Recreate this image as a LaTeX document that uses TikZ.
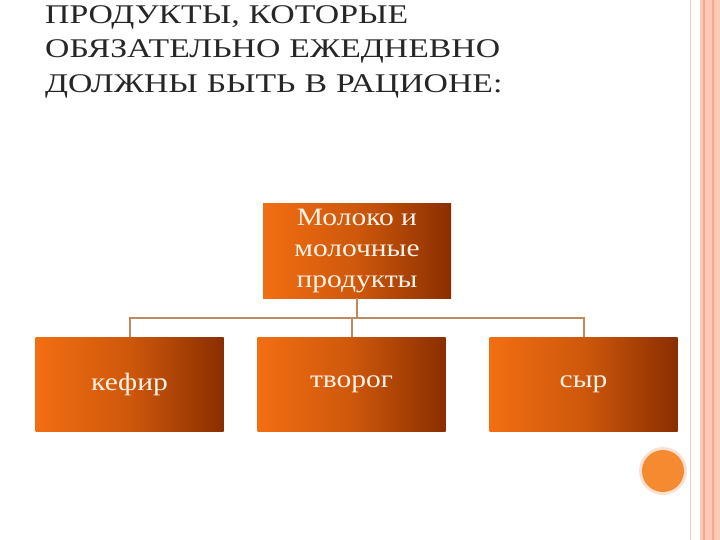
\documentclass[tikz,border=0pt]{standalone}
\usepackage{fontspec}
\setmainfont{Liberation Serif}
\newfontfamily\widefont[FakeStretch=1.25]{Liberation Serif}
\newfontfamily\boxfont[FakeStretch=1.18]{Liberation Serif}
\definecolor{lineC}{HTML}{C08A60}
\definecolor{oA}{HTML}{F26E12}
\definecolor{oB}{HTML}{8A2E00}
\definecolor{txtC}{HTML}{FFF2E6}
\definecolor{stripC}{HTML}{FBCBB8}
\definecolor{stripD}{HTML}{F4A88E}
\definecolor{circC}{HTML}{F58A30}
\tikzset{
 box/.style={draw=none, minimum width=188pt, minimum height=94pt, left color=oA, right color=oB, middle color=oA!65!oB, text=txtC, font=\boxfont\fontsize{25}{31}\selectfont, align=center, inner sep=0pt},
 conn/.style={draw=lineC, line width=2pt}
}
\begin{document}
\begin{tikzpicture}[x=1pt,y=-1pt]
\useasboundingbox (0,0) rectangle (720,540);
\fill[white] (0,0) rectangle (720,540);
% right decoration
\draw[stripD!60, line width=1pt] (690,0) -- (690,540);
\fill[stripC] (700,0) rectangle (720,540);
\draw[stripD, line width=1.5pt] (704,0) -- (704,540);
\draw[stripD, line width=1.5pt] (713,0) -- (713,540);
% circle
\fill[stripC!60] (663,471) circle (24);
\fill[circC] (663,471) circle (21);
% title
\node[anchor=north west, text width=560pt, inner sep=0pt, font=\widefont\fontsize{27}{34.5}\selectfont, text=black!85] (title) at (45,5)
 {ПРОДУКТЫ, КОТОРЫЕ ОБЯЗАТЕЛЬНО ЕЖЕДНЕВНО ДОЛЖНЫ БЫТЬ В РАЦИОНЕ:};
% boxes
\node[box] (top) at (357,251) {Молоко и\\молочные\\продукты};
\node[box] (b1) at (129.5,384) {кефир};
\node[box] (b2) at (351.5,384) {творог};
\node[box] (b3) at (583.5,384) {сыр};
\coordinate (j) at (357,318);
\coordinate (l) at (129.5,318);
\coordinate (r) at (583.5,318);
\coordinate (m) at (351.5,318);
\draw[conn] (top.south) -- (j);
\draw[conn] (b1.north) -- (l) -- (r) -- (b3.north);
\draw[conn] (m) -- (b2.north);
\end{tikzpicture}
\end{document}
